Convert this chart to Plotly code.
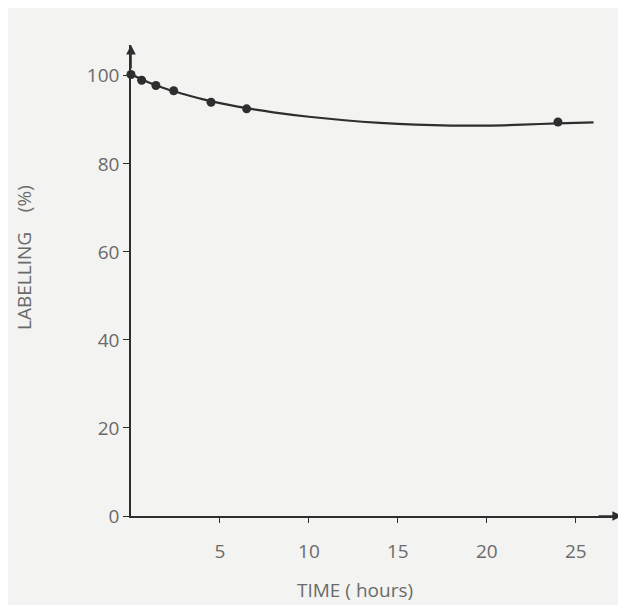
import plotly.graph_objects as go

# measured points
time_h = [0, 0.6, 1.4, 2.4, 4.5, 6.5, 24.0]
labelling = [100.3, 99.0, 97.8, 96.6, 94.0, 92.5, 89.5]

# smooth fitted curve
curve_t = [-0.5, 0, 1, 2, 3, 4, 5, 6, 7, 8, 10, 12, 14, 16, 18, 20, 22, 24, 26]
curve_y = [100.8, 100.3, 98.5, 97.0, 95.8, 94.7, 93.8, 93.0, 92.3, 91.7, 90.7, 89.9, 89.3, 88.9, 88.7, 88.7, 88.9, 89.2, 89.4]

x_ticks = [5, 10, 15, 20, 25]
y_ticks = [0, 20, 40, 60, 80, 100]

ink = "#2e2e2e"
txt = "#6a6a6a"
bg = "#f3f3f1"

fig = go.Figure()
fig.add_trace(go.Scatter(x=curve_t, y=curve_y, mode="lines",
                         line=dict(color=ink, width=2.2, shape="spline"),
                         hoverinfo="skip", cliponaxis=False))
fig.add_trace(go.Scatter(x=time_h, y=labelling, mode="markers",
                         marker=dict(color=ink, size=9), cliponaxis=False))

xmax, ymax = 27.6, 107
fig.add_annotation(x=xmax, y=0, ax=-25, ay=0, xref="x", yref="y", text="",
                   showarrow=True, arrowhead=2, arrowsize=1.2, arrowwidth=1.6, arrowcolor=ink)
fig.add_annotation(x=0, y=ymax, ax=0, ay=25, xref="x", yref="y", text="",
                   showarrow=True, arrowhead=2, arrowsize=1.2, arrowwidth=1.6, arrowcolor=ink)

# axis titles
fig.add_annotation(x=-0.218, y=0.55, xref="paper", yref="paper", showarrow=False,
                   text="LABELLING\u00a0\u00a0\u00a0\u00a0(%)", textangle=-90,
                   xanchor="center", yanchor="middle", font=dict(size=19, color=txt))
fig.add_annotation(x=0.456, y=-0.157, xref="paper", yref="paper", showarrow=False,
                   text="TIME ( hours)", xanchor="center", yanchor="middle",
                   font=dict(size=19, color=txt))

fig.update_layout(
    width=616, height=597,
    margin=dict(l=123, r=2, t=37, b=89),
    paper_bgcolor=bg, plot_bgcolor=bg,
    showlegend=False,
    font=dict(family="Open Sans", color=txt, size=19),
)
fig.update_xaxes(range=[0, xmax], tickvals=x_ticks, ticktext=[str(v) for v in x_ticks],
                 showline=True, linecolor=ink, linewidth=1.6, ticks="outside", ticklen=5,
                 tickcolor=ink, showgrid=False, zeroline=False, ticklabelstandoff=12)
fig.update_yaxes(range=[0, ymax], tickvals=y_ticks, ticktext=[str(v) for v in y_ticks],
                 showline=True, linecolor=ink, linewidth=1.6, ticks="outside", ticklen=6,
                 tickcolor=ink, showgrid=False, zeroline=False)

fig.write_html("out.html")
